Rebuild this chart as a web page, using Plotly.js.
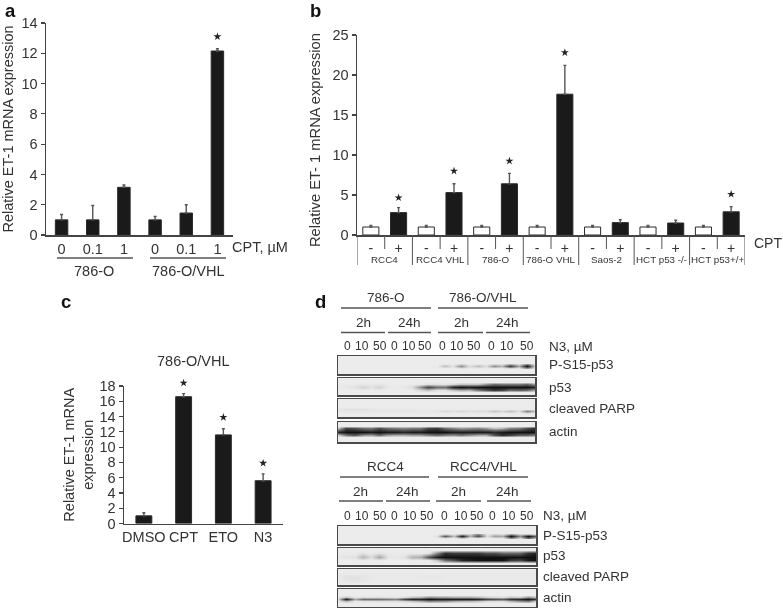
<!DOCTYPE html>
<html><head><meta charset="utf-8">
<script src="https://cdn.plot.ly/plotly-3.0.1.min.js"></script>
<style>html,body{margin:0;padding:0;background:#fff}#chart{width:783px;height:608px;filter:blur(0.45px)}</style>
</head><body><div id="chart"></div>
<script>
// ---- Panel a
const aLabels = ['0','0.1','1','0','0.1','1'];
const aValues = [1,1,3.15,1,1.45,12.15];
const aErr = [0.35,0.95,0.15,0.22,0.55,0.15];
const aStarX = [5];
const aStarY = [13.1];
// ---- Panel b
const bLabels = ['-','+','-','+','-','+','-','+','-','+','-','+','-','+'];
const bValues = [1,2.8,1,5.3,1,6.4,1,17.6,1,1.55,1,1.5,1,2.9];
const bErr = [0.18,0.62,0.18,1.1,0.18,1.3,0.18,3.6,0.18,0.35,0.18,0.35,0.18,0.65];
const bColors = ['#ffffff','#1a1a1a','#ffffff','#1a1a1a','#ffffff','#1a1a1a','#ffffff','#1a1a1a','#ffffff','#1a1a1a','#ffffff','#1a1a1a','#ffffff','#1a1a1a'];
const bStarX = [1,3,5,7,13];
const bStarY = [4.66,8,9.25,22.8,5.1];
const bGroups = ['RCC4','RCC4 VHL','786-O','786-O VHL','Saos-2','HCT p53 -/-','HCT p53+/+'];
// ---- Panel c
const cLabels = ['DMSO','CPT','ETO','N3'];
const cValues = [1,16.6,11.6,5.6];
const cErr = [0.4,0.4,0.8,0.9];
const cStarX = [1,2,3];
const cStarY = [18.4,13.9,7.9];
// ---- Panel d: band density read along each blot (lane edges and lane centres, 25 samples)
const blotUpperPS15Top   = [.04,.04,.04,.04,.04,.04,.04,.04,.04,.04,.04,.04,.04,.08,.05,.15,.05,.08,.05,.14,.1,.3,.12,.45,.06];
const blotUpperPS15Core  = [.04,.04,.04,.04,.04,.04,.04,.04,.04,.04,.04,.04,.05,.22,.07,.42,.1,.22,.1,.42,.25,.8,.3,1,.12];
const blotUpperPS15Bot   = [.04,.04,.04,.04,.04,.04,.04,.04,.04,.04,.04,.04,.04,.05,.04,.1,.05,.06,.05,.08,.06,.15,.07,.42,.06];
const blotUpperP53Top    = [.05,.05,.05,.06,.05,.07,.05,.04,.04,.05,.05,.1,.08,.07,.12,.2,.2,.2,.4,.55,.5,.5,.5,.6,.35];
const blotUpperP53Core   = [.05,.06,.08,.14,.08,.14,.06,.05,.06,.1,.4,.75,.55,.55,.92,1,.95,1,1,1,1,1,1,1,.9];
const blotUpperP53Bot    = [.04,.04,.04,.05,.04,.05,.04,.04,.04,.05,.12,.2,.08,.08,.2,.3,.25,.5,.65,.8,.75,.55,.6,.55,.3];
const blotUpperParpTop   = [.07,.09,.08,.09,.07,.06,.06,.06,.06,.06,.05,.05,.05,.05,.05,.05,.05,.05,.05,.05,.05,.05,.05,.05,.05];
const blotUpperParpCore  = [.06,.06,.06,.06,.06,.06,.06,.06,.06,.06,.06,.06,.07,.12,.09,.12,.09,.11,.1,.2,.12,.22,.1,.48,.2];
const blotUpperParpBot   = [.05,.05,.05,.05,.05,.05,.05,.05,.05,.05,.05,.05,.05,.05,.05,.05,.05,.05,.05,.06,.05,.07,.05,.1,.05];
const blotUpperActinTop  = [.2,.75,.7,.55,.5,.7,.55,.5,.45,.5,.5,.75,.8,.55,.45,.35,.4,.45,.35,.2,.25,.45,.5,.7,.85];
const blotUpperActinCore = [.9,1,1,1,.95,1,.95,.95,.9,.95,.95,1,1,1,.95,.95,.95,.95,.95,.9,.95,1,1,1,1];
const blotUpperActinBot  = [.15,.5,.65,.4,.35,.55,.35,.3,.3,.35,.35,.45,.55,.45,.4,.5,.4,.3,.3,.65,.85,.75,.6,.6,.45];
const blotLowerPS15Top   = [.04,.04,.04,.04,.04,.04,.04,.04,.04,.04,.04,.04,.04,.14,.08,.22,.15,.45,.06,.15,.1,.35,.15,.2,.1];
const blotLowerPS15Core  = [.04,.04,.04,.04,.04,.04,.04,.04,.04,.04,.04,.04,.08,.65,.2,.95,.25,.7,.1,.35,.3,1,.4,1,.6];
const blotLowerPS15Bot   = [.04,.04,.04,.04,.04,.04,.04,.04,.04,.04,.04,.04,.04,.08,.05,.2,.04,.06,.04,.06,.06,.45,.12,.6,.2];
const blotLowerP53Top    = [.05,.05,.05,.08,.05,.08,.05,.05,.05,.06,.05,.08,.45,.85,.8,.8,.8,.8,.7,.7,.6,.6,.6,.85,.9];
const blotLowerP53Core   = [.06,.08,.08,.26,.1,.32,.07,.06,.08,.26,.3,.7,.95,1,1,1,1,1,1,1,1,1,1,1,1];
const blotLowerP53Bot    = [.04,.04,.04,.05,.04,.05,.04,.04,.04,.05,.04,.05,.2,.55,.7,.9,.95,1,1,1,1,.8,.75,.95,1];
const blotLowerParpTop   = [.05,.05,.05,.05,.05,.05,.05,.05,.05,.05,.05,.05,.05,.05,.05,.05,.05,.05,.05,.05,.05,.05,.05,.05,.05];
const blotLowerParpCore  = [.05,.08,.09,.07,.06,.05,.05,.05,.05,.05,.06,.06,.06,.05,.05,.05,.05,.05,.05,.05,.05,.05,.05,.05,.05];
const blotLowerParpBot   = [.05,.06,.07,.07,.05,.05,.05,.05,.05,.05,.05,.05,.05,.05,.05,.05,.05,.05,.05,.05,.05,.05,.05,.05,.05];
const blotLowerActinTop  = [.06,.2,.06,.1,.08,.1,.08,.06,.1,.2,.25,.4,.35,.35,.3,.3,.3,.25,.15,.12,.1,.2,.15,.4,.2];
const blotLowerActinCore = [.1,.95,.3,.55,.55,.55,.5,.45,.75,.9,.9,1,.95,.95,.95,.95,.95,.9,.75,.7,.65,.85,.9,1,.8];
const blotLowerActinBot  = [.05,.25,.06,.08,.08,.1,.1,.1,.12,.2,.3,.45,.4,.4,.3,.25,.25,.2,.1,.1,.1,.25,.4,.5,.1];
const laneLabels = ['0','10','50','0','10','50','0','10','50','0','10','50'];

const W = 783, H = 608;
const fx = p => p / W, fy = p => 1 - p / H;
const INK = '#333333', AXIS = '#444444', FONT = '"Liberation Sans", Arial, sans-serif';
const traces = [], shapes = [], annotations = [];
const layout = {
  width: W, height: H, margin: {l:0,r:0,t:0,b:0}, showlegend: false, bargap: 0.5,
  paper_bgcolor: '#fff', plot_bgcolor: 'rgba(0,0,0,0)', font: {family: FONT, color: INK, size: 14},
  shapes, annotations
};
function txt(x, y, text, size, anchor, extra) {
  annotations.push(Object.assign({xref:'paper', yref:'paper', x:fx(x), y:fy(y), text, showarrow:false,
    xanchor:anchor||'center', yanchor:'middle', font:{size:size||14, color:INK, family:FONT}, borderpad:0, bgcolor:'rgba(0,0,0,0)'}, extra||{}));
}
function letter(x, y, t) {
  txt(x, y, t, 18.5, 'center', {font:{size:18.5, color:'#111', family:FONT, weight:700}});
}
function rule(x0, x1, y) {
  shapes.push({type:'line', xref:'paper', yref:'paper', x0:fx(x0), x1:fx(x1), y0:fy(y), y1:fy(y), line:{color:'#555', width:1.3}});
}
function chart(n, box, yRange, yDtick, xLabels, title, standoff, xFont) {
  const xs = xLabels.map((_, i) => i);
  layout['xaxis'+n] = {domain:[fx(box[0]), fx(box[1])], range:[-0.5, xLabels.length-0.5], anchor:'y'+n,
    tickmode:'array', tickvals:xs, ticktext:xLabels, ticks:'', showgrid:false, zeroline:false,
    showline:true, linecolor:AXIS, linewidth:1.5, tickfont:{size:xFont, color:INK, family:FONT}, fixedrange:true};
  layout['yaxis'+n] = {domain:[fy(box[3]), fy(box[2])], range:yRange, anchor:'x'+n, dtick:yDtick,
    ticks:'outside', ticklen:4, tickcolor:AXIS, tickwidth:1.2, showgrid:false, zeroline:false,
    showline:true, linecolor:AXIS, linewidth:1.5, tickfont:{size:14.5, color:INK, family:FONT}, fixedrange:true,
    title:title ? {text:title, font:{size:14.5, color:INK, family:FONT}, standoff} : undefined};
}
function bars(n, vals, errs, colors, width) {
  traces.push({type:'bar', x:vals.map((_, i) => i), y:vals, width, xaxis:'x'+n, yaxis:'y'+n, hoverinfo:'skip',
    marker:{color:colors, line:{color:'#2a2a2a', width:1}},
    error_y:{type:'data', symmetric:false, array:errs, arrayminus:vals.map(() => 0), color:'#555', thickness:1.4, width:1.5}});
}
function stars(xa, ya, xs, ys) {
  traces.push({type:'scatter', mode:'markers', x:xs, y:ys, xaxis:xa, yaxis:ya, cliponaxis:false, hoverinfo:'skip',
    marker:{symbol:'star', size:6, color:'#222', line:{width:0}}});
}

// Panel a
chart(1, [46,233,23,235], [0,14], 2, aLabels, 'Relative ET-1 mRNA expression', 7, 14.5);
bars(1, aValues, aErr, '#1a1a1a', 0.4);
stars('x1','y1', aStarX, aStarY);
txt(231, 247, 'CPT, µM', 14.5, 'left');
rule(57,133,258); rule(150,226,258);
txt(94, 271, '786-O', 14.5); txt(188, 271, '786-O/VHL', 14.5);
letter(10, 10.5, 'a');

// Panel b
chart(2, [357,745,35,235], [0,25], 5, bLabels, '', 8, 14);
bars(2, bValues, bErr, bColors, 0.58);
stars('x2','y2', bStarX, bStarY);
txt(315, 140, 'Relative ET- 1 mRNA expression', 14.7, 'center', {textangle:-90});
bGroups.forEach((g, i) => {
  annotations.push({xref:'x2', yref:'paper', x:2*i+0.5, y:fy(260), text:g, showarrow:false, xanchor:'center', yanchor:'middle',
    font:{size:9.8, color:INK, family:FONT}});
});
for (let i = 0; i <= 7; i++) {
  shapes.push({type:'line', xref:'x2', yref:'paper', x0:2*i-0.5, x1:2*i-0.5, y0:fy(235), y1:fy(265), line:{color:'#555', width:1}});
  if (i < 7) shapes.push({type:'line', xref:'x2', yref:'paper', x0:2*i+0.5, x1:2*i+0.5, y0:fy(235), y1:fy(249), line:{color:'#555', width:1}});
}
txt(753, 243, 'CPT', 14, 'left');
letter(315, 11, 'b');

// Panel c
chart(3, [124,283,386,523.5], [0,18], 2, cLabels, 'Relative ET-1 mRNA<br>expression', 2, 14.5);
bars(3, cValues, cErr, '#1a1a1a', 0.4);
// the top asterisk sits above the axis end, so the asterisks use a hidden axis pair with the same scale and a taller span
layout.xaxis12 = {domain:layout.xaxis3.domain, range:layout.xaxis3.range, anchor:'y12', visible:false, fixedrange:true};
layout.yaxis12 = {domain:[fy(523.5), fy(523.5 - (523.5-386)/18*20)], range:[0,20], anchor:'x12', visible:false, fixedrange:true};
stars('x12','y12', cStarX, cStarY);
txt(193, 361, '786-O/VHL', 14.5);
letter(66, 301, 'c');

// Panel d blots
function blot(n, box, top, core, bot, yc, h) {
  layout['xaxis'+n] = {domain:[fx(box[0]), fx(box[1])], range:[0,12], anchor:'y'+n, visible:true, showticklabels:false, ticks:'',
    showgrid:false, zeroline:false, showline:true, mirror:true, linecolor:'#4a4a4a', linewidth:1.5, fixedrange:true};
  layout['yaxis'+n] = {domain:[fy(box[3]), fy(box[2])], range:[1,0], anchor:'x'+n, showticklabels:false, ticks:'',
    showgrid:false, zeroline:false, showline:true, mirror:true, linecolor:'#4a4a4a', linewidth:1.5, fixedrange:true};
  const empty = core.map(() => 0.04);
  traces.push({type:'heatmap', xaxis:'x'+n, yaxis:'y'+n, x:core.map((_, i) => i/2),
    y:[0, yc-1.7*h, yc-h, yc, yc+h, yc+1.7*h, 1],
    z:[empty, empty, top, core, bot, empty, empty], zmin:0, zmax:1, zsmooth:'best', showscale:false, hoverinfo:'skip',
    colorscale:[[0,'#f6f6f6'],[0.5,'#7a7a7a'],[1,'#111111']]});
}
blot(4,[338,535,356,374], blotUpperPS15Top, blotUpperPS15Core, blotUpperPS15Bot, .55, .09);
blot(5,[338,535,378,395], blotUpperP53Top, blotUpperP53Core, blotUpperP53Bot, .53, .16);
blot(6,[338,535,399,417], blotUpperParpTop, blotUpperParpCore, blotUpperParpBot, .66, .12);
blot(7,[338,535,422,442], blotUpperActinTop, blotUpperActinCore, blotUpperActinBot, .48, .16);
blot(8,[338,536,526,544], blotLowerPS15Top, blotLowerPS15Core, blotLowerPS15Bot, .55, .1);
blot(9,[338,536,548,565], blotLowerP53Top, blotLowerP53Core, blotLowerP53Bot, .5, .22);
blot(10,[338,536,569,585], blotLowerParpTop, blotLowerParpCore, blotLowerParpBot, .5, .25);
blot(11,[338,536,589,607], blotLowerActinTop, blotLowerActinCore, blotLowerActinBot, .55, .13);

letter(320, 301, 'd');
txt(386, 297, '786-O', 13.5); txt(483, 297, '786-O/VHL', 13.5);
rule(341,431,308); rule(438,528,308);
txt(363, 322, '2h', 13.5); txt(409, 322, '24h', 13.5); txt(461, 322, '2h', 13.5); txt(508, 322, '24h', 13.5);
rule(341,385,332.5); rule(388,431,332.5); rule(438,483,332.5); rule(486,530,332.5);
const upperLaneX = [347,361.5,380,394.5,408.5,425,442,456.5,474,491,506.5,527];
laneLabels.forEach((t, i) => txt(upperLaneX[i], 346, t, 12));
[['N3, µM',346],['P-S15-p53',364],['p53',387],['cleaved PARP',408],['actin',431]].forEach(r => txt(548, r[1], r[0], 13.5, 'left'));

txt(385, 466, 'RCC4', 13.5); txt(483, 466, 'RCC4/VHL', 13.5);
rule(340,429,477); rule(438,528,477);
txt(360, 491, '2h', 13.5); txt(408, 491, '24h', 13.5); txt(458, 491, '2h', 13.5); txt(508, 491, '24h', 13.5);
rule(339,383,501); rule(386,430,501); rule(436,481,501); rule(487,531,501);
const lowerLaneX = [347,361.5,380,394.5,410,427,445,460.5,477,492.5,509,527];
laneLabels.forEach((t, i) => txt(lowerLaneX[i], 516, t, 12));
[['N3, µM',515],['P-S15-p53',535],['p53',555],['cleaved PARP',576],['actin',597]].forEach(r => txt(542, r[1], r[0], 13.5, 'left'));

Plotly.newPlot('chart', traces, layout, {displayModeBar:false, staticPlot:true, responsive:false});
</script></body></html>
